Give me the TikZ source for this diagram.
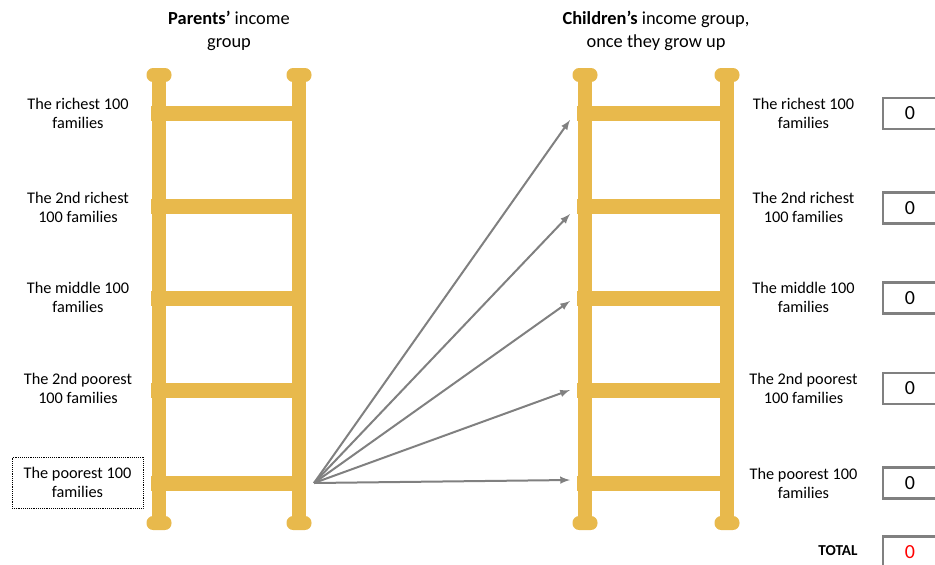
\documentclass[tikz,border=0pt]{standalone}
\usepackage{fontspec}
\setmainfont{Carlito}
\usetikzlibrary{arrows}
\definecolor{ladder}{RGB}{232,185,76}
\definecolor{arrowgray}{RGB}{128,128,128}

\begin{document}
\begin{tikzpicture}[x=0.75pt,y=-0.75pt]
\tikzstyle{rail}=[ladder,line width=10.5pt]
\tikzstyle{rung}=[ladder,line width=11.25pt]
\tikzstyle{knob}=[fill=ladder,rounded corners=5pt,minimum width=18.75pt,minimum height=10.5pt,inner sep=0pt]
\tikzstyle{group}=[align=center,inner sep=0pt,font=\fontsize{12.2}{14.25}\selectfont]
\tikzstyle{head}=[align=center,inner sep=0pt,font=\fontsize{13.8}{17.25}\selectfont]
\tikzstyle{count}=[draw=arrowgray,line width=1.6pt,minimum width=40.5pt,minimum height=23.25pt,inner sep=0pt,font=\fontsize{15}{17}\selectfont]
\tikzstyle{move}=[->,>=latex,arrowgray,line width=1.5pt]

\useasboundingbox (0,0) rectangle (935,564);

% headings
\node at (229,31) [head] (parents) {\textbf{Parents’} income\\group};
\node at (656,31) [head] (children) {\textbf{Children’s} income group,\\once they grow up};

% left ladder
\node at (159,75) [knob] (ltl) {};
\node at (299,75) [knob] (ltr) {};
\node at (159,523) [knob] (lbl) {};
\node at (299,523) [knob] (lbr) {};
\draw[rail] (ltl.center) -- (lbl.center);
\draw[rail] (ltr.center) -- (lbr.center);
\draw[rung] (151,113) -- (299,113);
\draw[rung] (151,206) -- (299,206);
\draw[rung] (151,298) -- (299,298);
\draw[rung] (151,390) -- (299,390);
\draw[rung] (151,483) -- (299,483);

% right ladder
\node at (585,75) [knob] (rtl) {};
\node at (727,75) [knob] (rtr) {};
\node at (585,523) [knob] (rbl) {};
\node at (727,523) [knob] (rbr) {};
\draw[rail] (rtl.center) -- (rbl.center);
\draw[rail] (rtr.center) -- (rbr.center);
\draw[rung] (577,113) -- (727,113);
\draw[rung] (577,206) -- (727,206);
\draw[rung] (577,298) -- (727,298);
\draw[rung] (577,390) -- (727,390);
\draw[rung] (577,483) -- (727,483);

% parents' groups
\node at (78,113.5) [group] (prich) {The richest 100\\families};
\node at (78,207) [group] (prich2) {The 2nd richest\\100 families};
\node at (78,297.5) [group] (pmid) {The middle 100\\families};
\node at (78,388.5) [group] (ppoor2) {The 2nd poorest\\100 families};
\node at (77.5,482.5) [group,draw,densely dotted,thin,minimum width=98.25pt,minimum height=38.25pt] (ppoor) {The poorest 100\\families};

% children's groups
\node at (803.5,113.5) [group] (crich) {The richest 100\\families};
\node at (803.5,207) [group] (crich2) {The 2nd richest\\100 families};
\node at (803.5,297.5) [group] (cmid) {The middle 100\\families};
\node at (803.5,388.5) [group] (cpoor2) {The 2nd poorest\\100 families};
\node at (803.5,483) [group] (cpoor) {The poorest 100\\families};

% moves from the poorest rung
\coordinate (start) at (314,483);
\coordinate (to1) at (570,120);
\coordinate (to2) at (570,214);
\coordinate (to3) at (570,301);
\coordinate (to4) at (570,390);
\coordinate (to5) at (570,480);
\draw[move] (start) -- (to1);
\draw[move] (start) -- (to2);
\draw[move] (start) -- (to3);
\draw[move] (start) -- (to4);
\draw[move] (start) -- (to5);

% counts
\node at (910,113.5) [count] (n1) {0};
\node at (910,208) [count] (n2) {0};
\node at (910,298) [count] (n3) {0};
\node at (910,388.5) [count] (n4) {0};
\node at (910,483) [count] (n5) {0};
\node at (838,551) [font=\fontsize{11.4}{13}\selectfont\bfseries] (total) {TOTAL};
\node at (910,552) [count,text=red] (ntotal) {0};

\end{tikzpicture}
\end{document}
